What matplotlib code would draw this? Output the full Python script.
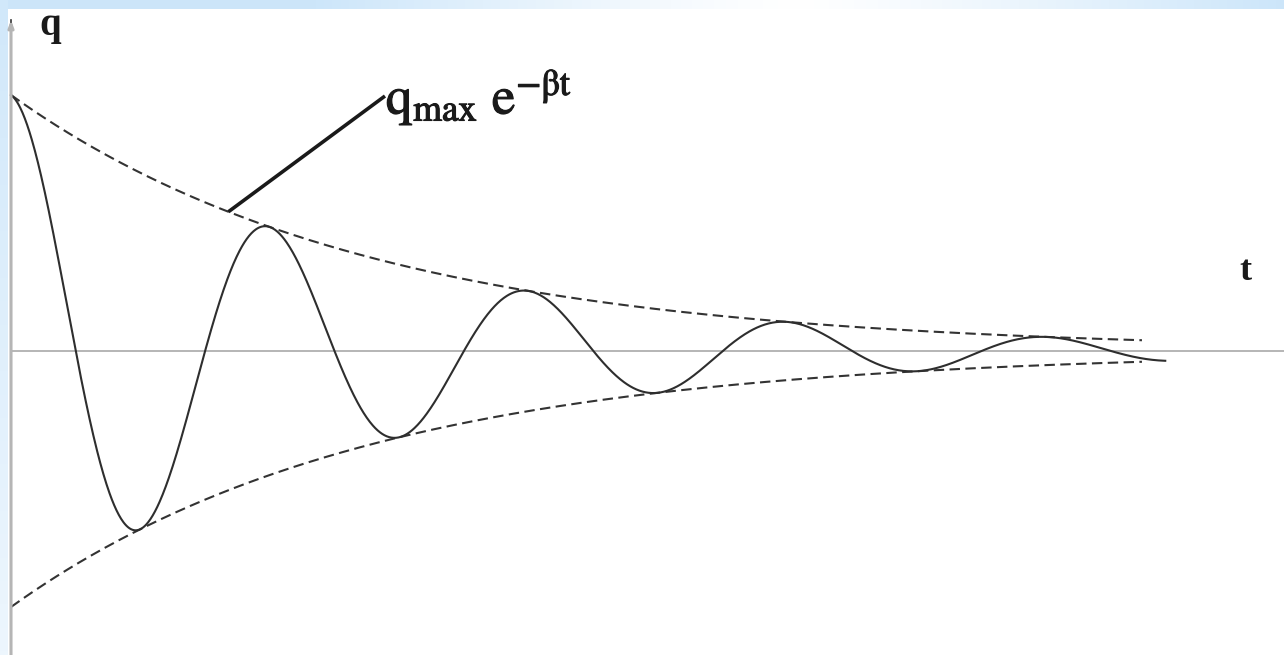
import numpy as np
import matplotlib
matplotlib.use("Agg")
import matplotlib.pyplot as plt
import matplotlib.patheffects as pe

plt.rcParams["mathtext.fontset"] = "stix"

# damped oscillation q = q_max * exp(-beta t) * cos(2 pi t / T)
q_max = 1.0
beta = 0.725        # damping constant (1 / period)
period = 1.0
t_end_curve = 4.46
t_end_envelope = 4.37

# leader line of the envelope label: start on the envelope, end at the text
label_t = 0.84
label_end = (1.445, 0.996)

W, H, DPI = 1284, 655, 100
fig = plt.figure(figsize=(W / DPI, H / DPI), dpi=DPI)

# light blue slide border (top and left strips)
bg = np.ones((H, W, 3))
blue = np.array([0.80, 0.90, 0.98])
xs = np.linspace(0, 1, W)
top_mix = np.clip(np.abs(xs - 0.62) / 0.38, 0, 1) ** 1.2
for r in range(9):
    bg[r] = (1 - top_mix[:, None]) * 1.0 + top_mix[:, None] * blue
ys = np.linspace(0, 1, H)
left_mix = 0.9 - 0.55 * ys
for c in range(8):
    bg[:, c] = (1 - left_mix[:, None]) * 1.0 + left_mix[:, None] * blue
bax = fig.add_axes([0, 0, 1, 1])
bax.imshow(bg, aspect="auto", interpolation="bilinear")
bax.axis("off")

ax = fig.add_axes([0, 0, 1, 1])
ax.patch.set_alpha(0)
ax.axis("off")
px_t = 258.8   # pixels per period
px_q = 256.0   # pixels per q_max
ax.set_xlim(-11 / px_t, (W - 11) / px_t)
ax.set_ylim(-(H - 351) / px_q, 351 / px_q)

# axes
ax.annotate("", xy=(0, (351 - 20) / px_q), xytext=(0, -(H - 351) / px_q),
            arrowprops=dict(arrowstyle="-|>,head_length=0.4,head_width=0.15",
                            color="#b5b5b5", lw=2.2, shrinkA=0, shrinkB=0))
ax.plot([0, 0], [(351 - 26) / px_q, (351 - 20) / px_q], color="#333333", lw=1.2)
ax.plot([0, (W - 11) / px_t], [0, 0], color="#b0b0b0", lw=1.3)

# envelopes
te = np.linspace(0, t_end_envelope, 400)
env = q_max * np.exp(-beta * te)
dash = dict(color="#333333", lw=1.5, dashes=(5, 2.6))
ax.plot(te, env, **dash)
ax.plot(te, -env, **dash)

# oscillation
t = np.linspace(0, t_end_curve, 1500)
q = q_max * np.exp(-beta * t) * np.cos(2 * np.pi * t / period)
ax.plot(t, q, color="#2e2e2e", lw=1.5)

# label with leader line
ax.plot([label_t, label_end[0]],
        [q_max * np.exp(-beta * label_t), label_end[1]],
        color="#1a1a1a", lw=2.6, solid_capstyle="butt")
ax.text(label_end[0] + 1 / px_t, (351 - 114) / px_q,
        r"$\mathrm{q}_{\mathrm{max}}\ \mathrm{e}^{\mathrm{-β t}}$",
        fontsize=38, ha="left", va="baseline", color="#1a1a1a",
        path_effects=[pe.withStroke(linewidth=0.8, foreground="#1a1a1a")])

ax.text((50 - 11) / px_t, (351 - 26) / px_q, "q", fontsize=28,
        family="Liberation Serif", weight="bold", ha="center", va="center",
        color="#1a1a1a")
ax.text((1245 - 11) / px_t, (351 - 272) / px_q, "t", fontsize=26,
        family="Liberation Serif", weight="bold", ha="center", va="center",
        color="#1a1a1a")

fig.savefig("out.png", dpi=DPI)
